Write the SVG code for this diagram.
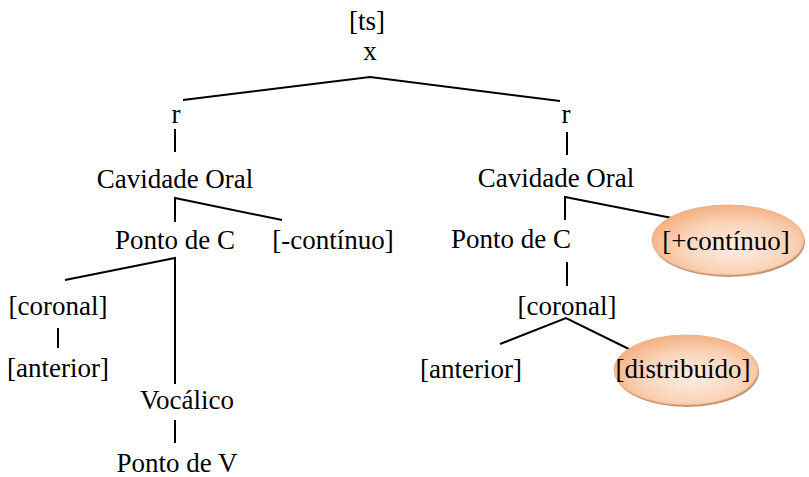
<svg xmlns="http://www.w3.org/2000/svg" width="809" height="477" viewBox="0 0 809 477">
<style>
text{font-family:"Liberation Serif","Times New Roman",serif;font-size:27px;fill:#000;text-anchor:middle}
#connectors line,#connectors polyline{stroke:#000;stroke-width:2;fill:none}
.shadow{fill:#b8987a}
.oval{fill:url(#g);stroke:#f4b183;stroke-width:1}
</style>
<defs>
<radialGradient id="g" cx="0.55" cy="0.6" r="0.6">
<stop offset="0" stop-color="#fdeee4"/>
<stop offset="0.6" stop-color="#fad3b8"/>
<stop offset="1" stop-color="#f4b183"/>
</radialGradient>
</defs>
<rect width="809" height="477" fill="#fff"/>
<g id="connectors">
<polyline points="183,100 370,77 560,101"/>
<line x1="175" y1="129" x2="175" y2="152"/>
<polyline points="175,222 175,198 282,220"/>
<polyline points="65,280 175,258 175,384"/>
<line x1="58" y1="328" x2="58" y2="348"/>
<line x1="175" y1="420" x2="175" y2="443"/>
<line x1="567" y1="132" x2="567" y2="155"/>
<polyline points="565,220 565,197 672,218"/>
<line x1="567" y1="262" x2="567" y2="286"/>
<polyline points="500,344 566,318 635,352"/>
</g>
<g id="ts"><text x="367" y="30">[ts]</text></g>
<g id="x"><text x="370" y="60">x</text></g>
<g id="r1"><text x="176" y="123">r</text></g>
<g id="co1"><text x="175" y="188">Cavidade Oral</text></g>
<g id="pc1"><text x="175" y="249">Ponto de C</text></g>
<g id="cont1"><text x="333" y="249">[-contínuo]</text></g>
<g id="cor1"><text x="58" y="315">[coronal]</text></g>
<g id="ant1"><text x="58" y="377">[anterior]</text></g>
<g id="voc"><text x="187" y="409">Vocálico</text></g>
<g id="pv"><text x="177" y="472">Ponto de V</text></g>
<g id="r2"><text x="566" y="123">r</text></g>
<g id="co2"><text x="556" y="187">Cavidade Oral</text></g>
<g id="pc2"><text x="511" y="248">Ponto de C</text></g>
<g id="cont2">
<ellipse class="shadow" cx="729" cy="242" rx="76" ry="35"/>
<ellipse class="oval" cx="728" cy="240" rx="76" ry="35"/>
<text x="726" y="250">[+contínuo]</text>
</g>
<g id="cor2"><text x="567" y="315">[coronal]</text></g>
<g id="ant2"><text x="471" y="378">[anterior]</text></g>
<g id="dist">
<ellipse class="shadow" cx="687" cy="372" rx="72" ry="35"/>
<ellipse class="oval" cx="686" cy="370" rx="72" ry="35"/>
<text x="683" y="378">[distribuído]</text>
</g>
</svg>
